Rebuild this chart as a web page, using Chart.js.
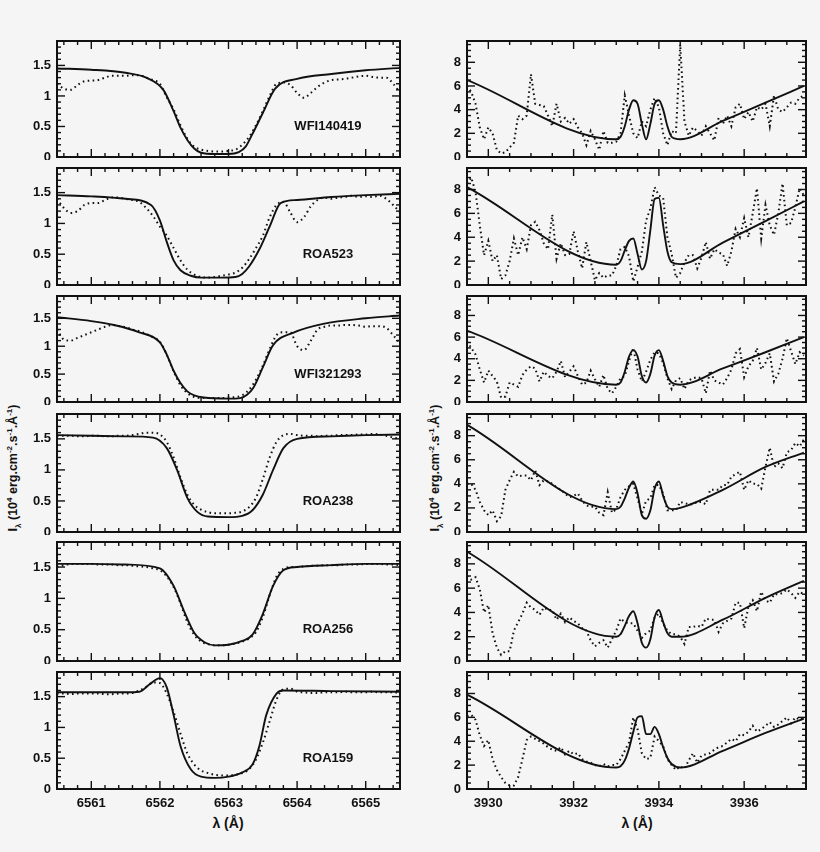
<!DOCTYPE html>
<html><head><meta charset="utf-8">
<script src="https://cdn.jsdelivr.net/npm/chart.js@4.4.1/dist/chart.umd.min.js"></script>
<style>
html,body{margin:0;padding:0;background:#f5f5f5;width:820px;height:852px;overflow:hidden;font-family:"Liberation Sans",Arial,sans-serif;color:#111}
.box{position:absolute}
.yt{position:absolute;transform:translate(-50%,-50%) rotate(-90deg);white-space:nowrap;font-weight:bold;font-size:12.5px}
.xt{position:absolute;transform:translateX(-50%);font-weight:bold;font-size:14px;white-space:nowrap}
sub,sup{font-size:8px}
</style></head><body>
<div class="yt" style="left:14px;top:468px">I<sub>λ</sub> (10<sup>4</sup> erg.cm<sup>-2</sup>.s<sup>-1</sup>.Å<sup>-1</sup>)</div>
<div class="yt" style="left:436px;top:468px">I<sub>λ</sub> (10<sup>4</sup> erg.cm<sup>-2</sup>.s<sup>-1</sup>.Å<sup>-1</sup>)</div>
<div class="xt" style="left:228px;top:815px">λ (Å)</div>
<div class="xt" style="left:637px;top:815px">λ (Å)</div>
<script>
const panelNames=["WFI140419","ROA523","WFI321293","ROA238","ROA256","ROA159"];
const haXTicks=[6561,6562,6563,6564,6565];
const caXTicks=[3930,3932,3934,3936];
const haYTicks=[0,0.5,1,1.5];
const caYTicks=[0,2,4,6,8];

// H-alpha observed wavelength grid
const haObsX=[6560.5,6560.6,6560.7,6560.8,6560.9,6561.0,6561.1,6561.2,6561.3,6561.4,6561.5,6561.6,6561.7,6561.8,6561.9,6562.0,6562.1,6562.2,6562.3,6562.4,6562.5,6562.6,6562.7,6562.8,6562.9,6563.0,6563.1,6563.2,6563.3,6563.4,6563.5,6563.6,6563.7,6563.8,6563.9,6564.0,6564.1,6564.2,6564.3,6564.4,6564.5,6564.6,6564.7,6564.8,6564.9,6565.0,6565.1,6565.2,6565.3,6565.4,6565.5];
const ha1Obs=[1.20,1.12,1.10,1.18,1.24,1.25,1.26,1.30,1.33,1.33,1.33,1.34,1.34,1.30,1.26,1.20,0.98,0.78,0.52,0.30,0.17,0.12,0.10,0.09,0.09,0.10,0.12,0.20,0.33,0.52,0.75,1.00,1.20,1.22,1.18,1.05,0.97,1.05,1.15,1.22,1.26,1.27,1.28,1.30,1.32,1.33,1.31,1.30,1.30,1.20,1.05];
const ha2Obs=[1.40,1.25,1.17,1.20,1.30,1.33,1.33,1.38,1.42,1.42,1.40,1.38,1.35,1.25,1.12,0.95,0.80,0.60,0.40,0.25,0.17,0.13,0.12,0.13,0.15,0.17,0.20,0.28,0.42,0.60,0.80,1.10,1.30,1.35,1.18,1.02,1.10,1.28,1.38,1.42,1.40,1.42,1.43,1.45,1.43,1.44,1.43,1.45,1.40,1.30,1.18];
const ha3Obs=[1.30,1.12,1.10,1.15,1.20,1.25,1.30,1.35,1.38,1.36,1.34,1.30,1.27,1.22,1.16,1.08,0.85,0.55,0.30,0.16,0.09,0.07,0.07,0.07,0.07,0.08,0.09,0.12,0.22,0.40,0.65,0.95,1.20,1.25,1.25,1.00,0.93,1.10,1.30,1.35,1.37,1.37,1.38,1.38,1.37,1.35,1.36,1.36,1.33,1.20,1.05];
const ha4Obs=[1.55,1.55,1.55,1.54,1.54,1.55,1.55,1.54,1.54,1.55,1.55,1.56,1.58,1.60,1.60,1.57,1.45,1.20,0.88,0.60,0.44,0.36,0.32,0.30,0.30,0.30,0.31,0.33,0.40,0.55,0.85,1.20,1.45,1.56,1.58,1.56,1.55,1.55,1.54,1.55,1.55,1.56,1.56,1.56,1.57,1.57,1.58,1.57,1.55,1.52,1.50];
const ha5Obs=[1.50,1.53,1.55,1.55,1.55,1.55,1.54,1.54,1.54,1.53,1.53,1.52,1.51,1.50,1.48,1.45,1.35,1.18,0.92,0.62,0.42,0.31,0.27,0.25,0.25,0.26,0.28,0.31,0.36,0.46,0.70,1.05,1.35,1.47,1.50,1.50,1.51,1.52,1.52,1.53,1.53,1.53,1.54,1.54,1.54,1.55,1.55,1.55,1.54,1.54,1.53];
const ha6Obs=[1.55,1.55,1.54,1.55,1.55,1.55,1.55,1.54,1.54,1.55,1.55,1.56,1.60,1.66,1.73,1.72,1.55,1.25,0.90,0.58,0.40,0.30,0.26,0.23,0.22,0.22,0.23,0.26,0.32,0.48,0.75,1.10,1.45,1.62,1.63,1.58,1.57,1.56,1.56,1.57,1.57,1.57,1.58,1.57,1.57,1.57,1.58,1.57,1.57,1.57,1.56];

// H-alpha model profiles
const ha1ModX=[6560.5,6561,6561.5,6561.8,6562.05,6562.2,6562.3,6562.4,6562.5,6562.6,6562.8,6563.0,6563.15,6563.25,6563.35,6563.5,6563.68,6564.0,6564.5,6565,6565.5];
const ha1ModY=[1.45,1.43,1.38,1.30,1.10,0.75,0.48,0.28,0.14,0.07,0.05,0.05,0.08,0.17,0.38,0.72,1.12,1.28,1.36,1.42,1.46];
const ha2ModX=[6560.5,6561,6561.5,6561.87,6562.0,6562.1,6562.2,6562.3,6562.45,6562.6,6562.9,6563.1,6563.2,6563.3,6563.45,6563.6,6563.76,6564,6564.5,6565,6565.5];
const ha2ModY=[1.46,1.44,1.40,1.30,1.05,0.70,0.40,0.24,0.15,0.12,0.12,0.13,0.18,0.30,0.58,0.95,1.33,1.38,1.43,1.46,1.48];
const ha3ModX=[6560.5,6561,6561.33,6561.7,6562.0,6562.1,6562.2,6562.3,6562.4,6562.5,6562.64,6563.0,6563.17,6563.27,6563.36,6563.5,6563.65,6563.94,6564.38,6565,6565.5];
const ha3ModY=[1.52,1.45,1.38,1.25,1.07,0.85,0.56,0.34,0.19,0.12,0.08,0.06,0.07,0.13,0.25,0.62,1.02,1.24,1.40,1.50,1.55];
const ha4ModX=[6560.5,6561,6561.5,6561.9,6562.1,6562.25,6562.4,6562.55,6562.7,6563.0,6563.2,6563.35,6563.5,6563.65,6563.8,6564.0,6564.5,6565,6565.5];
const ha4ModY=[1.56,1.55,1.54,1.52,1.35,1.00,0.55,0.32,0.25,0.24,0.26,0.35,0.60,1.00,1.35,1.50,1.54,1.56,1.57];
const ha5ModX=[6560.5,6561,6561.5,6562.0,6562.2,6562.35,6562.5,6562.65,6562.8,6563.0,6563.2,6563.35,6563.5,6563.65,6563.8,6564.0,6564.5,6565,6565.5];
const ha5ModY=[1.55,1.55,1.54,1.48,1.20,0.80,0.45,0.30,0.25,0.26,0.32,0.42,0.75,1.20,1.45,1.50,1.53,1.55,1.55];
const ha6ModX=[6560.5,6561,6561.5,6561.7,6561.85,6562.0,6562.1,6562.2,6562.3,6562.45,6562.6,6562.8,6563.0,6563.2,6563.35,6563.45,6563.55,6563.7,6563.8,6564.5,6565.5];
const ha6ModY=[1.57,1.57,1.57,1.58,1.70,1.80,1.65,1.20,0.70,0.32,0.20,0.18,0.20,0.27,0.40,0.70,1.20,1.55,1.60,1.59,1.58];

// Ca II K observed grid
const caObsX=[3929.5,3929.6,3929.7,3929.8,3929.9,3930.0,3930.1,3930.2,3930.3,3930.4,3930.5,3930.6,3930.7,3930.8,3930.9,3931.0,3931.1,3931.2,3931.3,3931.4,3931.5,3931.6,3931.7,3931.8,3931.9,3932.0,3932.1,3932.2,3932.3,3932.4,3932.5,3932.6,3932.7,3932.8,3932.9,3933.0,3933.1,3933.2,3933.3,3933.4,3933.5,3933.6,3933.7,3933.8,3933.9,3934.0,3934.1,3934.2,3934.3,3934.4,3934.5,3934.6,3934.7,3934.8,3934.9,3935.0,3935.1,3935.2,3935.3,3935.4,3935.5,3935.6,3935.7,3935.8,3935.9,3936.0,3936.1,3936.2,3936.3,3936.4,3936.5,3936.6,3936.7,3936.8,3936.9,3937.0,3937.1,3937.2,3937.3,3937.4];
const ca1Obs=[6.0,5.5,4.5,2.5,1.5,2.5,2.0,0.6,0.3,0.4,0.8,1.2,3.5,3.2,3.5,7.0,4.5,4.4,4.3,3.5,2.6,4.5,3.0,3.3,2.8,3.2,2.5,2.0,1.0,2.2,1.5,0.6,2.2,1.2,1.2,1.3,2.0,5.2,3.5,2.0,1.6,3.0,2.6,4.0,5.0,4.2,2.0,1.0,2.2,2.0,9.5,3.0,1.8,2.5,2.2,1.8,2.6,2.0,1.4,3.3,2.8,3.5,2.6,4.2,4.5,3.2,3.8,3.0,4.2,4.0,4.5,2.6,5.2,4.0,3.8,4.2,4.6,4.5,5.0,5.2];
const ca2Obs=[8.5,9.0,7.8,5.0,2.5,3.7,2.0,2.5,0.5,0.8,2.0,3.9,2.5,4.0,3.0,5.0,5.3,4.6,3.5,3.0,5.9,2.2,3.5,2.5,2.6,4.5,2.8,1.4,3.6,2.0,0.4,1.0,0.6,0.8,0.8,1.6,3.0,3.2,2.4,0.3,1.5,2.8,5.4,6.4,8.2,7.5,7.3,4.0,2.6,0.6,1.0,1.9,2.5,2.5,1.4,2.3,3.6,2.2,3.0,2.7,2.6,1.6,2.8,4.7,4.0,5.6,4.0,6.0,8.1,3.9,6.7,5.0,4.2,6.0,8.5,5.0,5.2,6.5,8.1,7.5];
const ca3Obs=[5.6,5.0,4.4,3.0,1.8,2.9,2.4,1.9,0.4,0.5,1.8,1.6,1.4,2.5,3.0,3.3,3.1,1.9,2.8,2.4,2.2,2.8,3.8,2.3,2.8,3.3,2.4,1.6,1.8,2.9,2.1,1.4,2.5,1.2,0.8,1.4,2.2,2.4,3.8,5.0,3.0,1.9,2.8,3.9,4.6,4.5,3.6,2.2,1.2,2.0,2.2,1.2,2.0,2.2,2.3,2.2,0.8,2.9,2.0,1.8,1.6,2.2,3.0,4.5,4.9,2.3,3.3,3.8,5.0,3.0,3.6,4.5,1.9,2.6,4.0,5.9,4.7,3.5,4.6,4.3];
const ca4Obs=[4.0,4.0,3.5,2.5,1.8,1.4,1.8,0.9,1.3,3.5,4.3,5.0,4.6,4.7,4.7,4.3,5.1,3.9,4.3,4.2,4.0,3.7,3.5,3.2,2.9,3.0,3.2,2.6,2.2,2.1,2.1,1.6,1.4,3.3,1.6,1.9,2.9,3.5,3.8,4.0,2.8,1.5,2.6,2.8,3.9,3.9,3.2,1.8,1.8,1.8,2.5,2.4,2.3,2.3,2.5,2.5,2.3,3.5,3.5,3.5,3.9,3.9,4.6,4.8,5.0,3.5,4.3,4.0,4.0,3.6,5.4,7.0,5.4,5.7,5.3,6.6,6.8,7.4,7.1,7.7];
const ca5Obs=[7.0,6.7,6.9,5.9,4.0,4.6,2.3,1.1,0.5,0.8,0.8,2.5,3.2,3.9,4.8,4.4,4.2,3.8,4.4,4.2,4.2,3.4,3.9,3.2,3.6,3.3,3.1,2.7,2.5,1.7,1.2,1.5,1.7,1.1,1.8,2.5,3.5,3.2,3.1,3.1,2.5,1.9,2.3,2.5,3.6,3.9,3.1,2.5,2.2,2.2,2.0,1.4,2.8,2.8,2.9,2.8,3.5,3.4,3.4,2.4,3.1,3.3,3.5,4.8,4.8,2.7,4.5,5.0,4.1,5.7,5.0,4.8,5.5,5.5,5.6,5.9,5.6,5.2,5.7,5.5];
const ca6Obs=[6.1,6.2,5.8,4.5,3.6,4.1,2.5,1.6,1.0,0.5,0.3,0.3,1.0,2.5,4.1,4.4,4.2,4.0,3.8,3.5,3.3,3.2,3.5,2.9,3.2,2.9,3.0,2.5,2.3,2.2,2.0,1.9,2.1,1.9,2.0,2.0,2.5,3.2,3.9,6.0,5.0,3.0,2.5,2.6,4.4,4.0,3.6,2.5,2.0,1.6,1.9,1.7,2.4,3.0,2.2,2.8,2.9,3.0,3.3,3.5,3.6,3.9,4.2,4.0,4.6,4.5,4.8,5.3,4.8,5.0,5.3,5.6,5.2,5.4,5.7,6.0,5.5,6.0,5.8,6.0];

// Ca II K model profiles
const caModX=[3929.5,3933.0,3933.1,3933.2,3933.3,3933.4,3933.5,3933.6,3933.7,3933.8,3933.9,3934.0,3934.1,3934.2,3934.3,3934.5,3935.5,3936.5,3937.4];
const ca1Mod=[6.5,1.5,1.7,2.6,4.0,4.8,4.5,2.8,1.5,2.8,4.5,4.8,4.0,2.6,1.7,1.5,3.05,4.6,6.0];
const ca2Mod=[8.2,1.7,2.0,2.9,3.7,3.9,2.6,1.3,2.0,4.6,7.2,7.3,5.0,2.8,1.9,1.75,3.55,5.35,7.0];
const ca3Mod=[6.6,1.6,1.8,2.8,4.2,4.8,4.2,2.4,1.8,2.6,4.3,4.8,3.8,2.4,1.8,1.6,3.1,4.6,6.0];
const ca4Mod=[8.9,1.9,2.1,2.8,3.7,4.2,3.2,1.4,1.1,1.8,3.6,4.2,3.0,2.1,1.9,2.0,3.5,5.4,6.6];
const ca5Mod=[9.0,2.0,2.2,2.9,3.7,4.1,3.1,1.5,1.1,1.8,3.6,4.2,3.2,2.3,2.0,2.0,3.4,5.2,6.6];
const ca6Mod=[7.9,1.8,1.9,2.4,3.4,4.8,6.0,6.1,4.6,4.6,5.2,4.6,3.5,2.6,2.1,1.8,3.2,4.7,5.9];

const haObs=[ha1Obs,ha2Obs,ha3Obs,ha4Obs,ha5Obs,ha6Obs];
const haModX=[ha1ModX,ha2ModX,ha3ModX,ha4ModX,ha5ModX,ha6ModX];
const haModY=[ha1ModY,ha2ModY,ha3ModY,ha4ModY,ha5ModY,ha6ModY];
const caObs=[ca1Obs,ca2Obs,ca3Obs,ca4Obs,ca5Obs,ca6Obs];
const caMod=[ca1Mod,ca2Mod,ca3Mod,ca4Mod,ca5Mod,ca6Mod];

const rowTop=[41,168,296,414,542,672], rowBot=[157,285,402,532,661,789];
const YW=46, PAD=3, XH=30;
const FONT='"Liberation Sans", Arial, sans-serif';
const SPEC={
  0:{xMinor:0.2,xMajor:1,yMinor:0.1,yMajor:0.5,lx:6564.45,ly:0.5,xTicks:haXTicks,yTicks:haYTicks},
  1:{xMinor:0.5,xMajor:2,yMinor:0.5,yMajor:2,xTicks:caXTicks,yTicks:caYTicks}
};

const pts=(xs,ys)=>xs.map((x,i)=>({x,y:ys[i]}));

function makePlugin(o){return {id:'frame',afterDraw(c){
  const ctx=c.ctx,ca=c.chartArea,x=c.scales.x,y=c.scales.y;
  ctx.save(); ctx.setLineDash([]); ctx.fillStyle='#111';
  const isMaj=(v,m)=>Math.abs(v/m-Math.round(v/m))<1e-6;
  const x0=Math.ceil(x.min/o.xMinor-1e-6), x1=Math.floor(x.max/o.xMinor+1e-6);
  for(let k=x0;k<=x1;k++){
    const v=k*o.xMinor,p=x.getPixelForValue(v),L=isMaj(v,o.xMajor)?8:4;
    ctx.fillRect(p-0.7,ca.bottom-L,1.4,L);ctx.fillRect(p-0.7,ca.top,1.4,L);}
  const y0=Math.ceil(y.min/o.yMinor-1e-6), y1=Math.floor(y.max/o.yMinor+1e-6);
  for(let k=y0;k<=y1;k++){
    const v=k*o.yMinor,p=y.getPixelForValue(v),L=isMaj(v,o.yMajor)?8:4;
    ctx.fillRect(ca.left,p-0.7,L,1.4);ctx.fillRect(ca.right-L,p-0.7,L,1.4);}
  ctx.strokeStyle='#111';ctx.lineWidth=2; ctx.strokeRect(ca.left,ca.top,ca.width,ca.height);
  ctx.font='bold 13px '+FONT;
  ctx.textAlign='right';ctx.textBaseline='middle';
  o.yTicks.forEach(v=>ctx.fillText(String(v),ca.left-6,y.getPixelForValue(v)));
  if(o.showX){ctx.textAlign='center';ctx.textBaseline='top';
    o.xTicks.forEach(v=>ctx.fillText(String(v),x.getPixelForValue(v),ca.bottom+8));}
  if(o.label){ctx.textAlign='center';ctx.textBaseline='middle';
    ctx.fillText(o.label,x.getPixelForValue(o.lx),y.getPixelForValue(o.ly));}
  ctx.restore();}};}

function make(row,side){
  const last=row===5;
  const plotL=side===0?57:467, plotR=side===0?400:806;
  const top=rowTop[row],bot=rowBot[row];
  const div=document.createElement('div');div.className='box';
  const w=YW+(plotR-plotL)+PAD, h=(bot-top)+PAD+(last?XH:PAD);
  div.style.left=(plotL-YW)+'px';div.style.top=(top-PAD)+'px';div.style.width=w+'px';div.style.height=h+'px';
  const cv=document.createElement('canvas');div.appendChild(cv);document.body.appendChild(div);
  const o=Object.assign({},SPEC[side],{showX:last,label:side===0?panelNames[row]:''});
  let datasets,xr,yr;
  if(side===0){
    datasets=[
      {data:pts(haModX[row],haModY[row]),borderColor:'#111',borderWidth:1.9,pointRadius:0,cubicInterpolationMode:'monotone'},
      {data:pts(haObsX,haObs[row]),borderColor:'#111',borderWidth:2,borderDash:[1.6,3.4],pointRadius:0,cubicInterpolationMode:'monotone'}];
    xr=[6560.5,6565.5];yr=[0,1.9];
  } else {
    datasets=[
      {data:pts(caModX,caMod[row]),borderColor:'#111',borderWidth:1.9,pointRadius:0,cubicInterpolationMode:'monotone'},
      {data:pts(caObsX,caObs[row]),borderColor:'#111',borderWidth:2,borderDash:[1.6,3.2],pointRadius:0,tension:0}];
    xr=[3929.5,3937.45];yr=[0,9.8];
  }
  new Chart(cv,{type:'line',data:{datasets},plugins:[makePlugin(o)],options:{
    responsive:true,maintainAspectRatio:false,animation:false,
    layout:{padding:{top:PAD,right:PAD,bottom:last?XH:PAD,left:YW}},
    plugins:{legend:{display:false},tooltip:{enabled:false}},
    scales:{
      x:{type:'linear',display:false,min:xr[0],max:xr[1]},
      y:{type:'linear',display:false,min:yr[0],max:yr[1]}
    }}});
}
for(let r=0;r<6;r++){make(r,0);make(r,1);}
</script>
</body></html>
